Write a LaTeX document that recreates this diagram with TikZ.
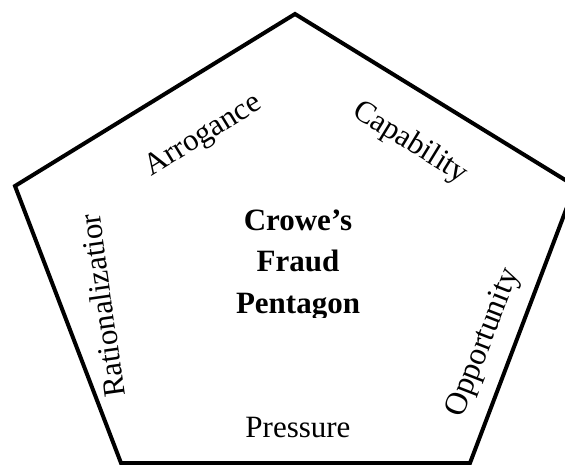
\documentclass[tikz,border=0pt]{standalone}
\usepackage{fontspec}
\setmainfont{Liberation Serif}
\tikzset{
  penta/.style={line width=4pt, line join=miter, draw=black},
  lbl/.style={inner sep=0pt, font=\fontsize{31}{37}\selectfont},
  ttl/.style={inner sep=0pt, anchor=base, font=\fontsize{31}{37}\selectfont\bfseries}
}
\begin{document}
\begin{tikzpicture}[x=1pt,y=-1pt]
\useasboundingbox (0,0) rectangle (565,464);
\clip (0,0) rectangle (565,464);
\coordinate (T) at (295,14);
\coordinate (R) at (575,186);
\coordinate (BR) at (470,463);
\coordinate (BL) at (121,463);
\coordinate (L) at (15,186);
\draw[penta] (T) -- (R) -- (BR) -- (BL) -- (L) -- cycle;
\node[lbl, rotate=31.6] (arr) at (204,136) {Arrogance};
\node[lbl, rotate=-31.6] (cap) at (410,143) {Capability};
\node[lbl, rotate=98] (rat) at (102,306) {Rationalizatior};
\node[lbl, rotate=68.8, font=\fontsize{32}{38}\selectfont] (opp) at (484,343) {Opportunity};
\node[lbl, anchor=base] (pre) at (298,437) {Pressure};
\begin{scope}
\clip (150,170) rectangle (450,317);
\node[ttl] (t1) at (298,230) {Crowe’s};
\node[ttl] (t2) at (298,271) {Fraud};
\node[ttl] (t3) at (298,313) {Pentagon};
\end{scope}
\end{tikzpicture}
\end{document}
